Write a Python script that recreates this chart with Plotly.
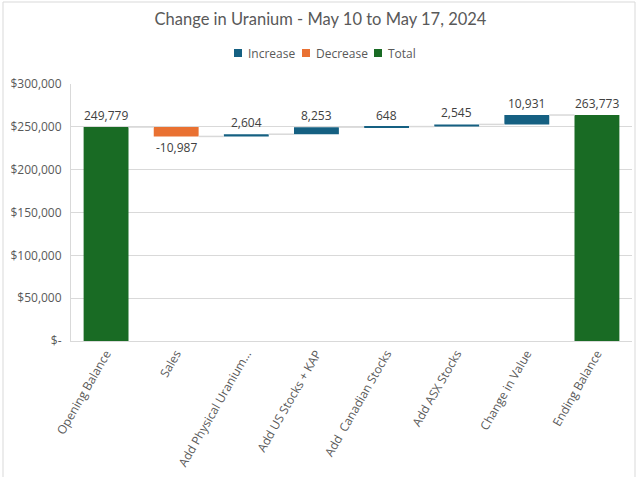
import plotly.graph_objects as go

categories = ["Opening Balance", "Sales", "Add Physical Uranium...", "Add US Stocks + KAP",
              "Add  Canadian Stocks", "Add ASX Stocks", "Change in Value", "Ending Balance"]
values = [249779, -10987, 2604, 8253, 648, 2545, 10931, 263773]
kinds = ["total", "dec", "inc", "inc", "inc", "inc", "inc", "total"]
series_names = ["Increase", "Decrease", "Total"]
y_tickvals = [0, 50000, 100000, 150000, 200000, 250000, 300000]
y_ticktext = ["$-", "$50,000", "$100,000", "$150,000", "$200,000", "$250,000", "$300,000"]

C_INC = "#156082"
C_DEC = "#E97132"
C_TOT = "#196B24"
TXT = "#595959"
GRID = "#d9d9d9"
BW = 0.64

# plot-area geometry (pixels)
L, R, T, B = 71, 632, 84, 341
PW, PH = R - L, B - T

def px_x(p):
    return (p - L) / PW

def px_y(p):
    return (B - p) / PH

bases, ends = [], []
running = 0
for v, k in zip(values, kinds):
    if k == "total":
        bases.append(0)
        running = v
        ends.append(v)
    else:
        bases.append(running)
        running = running + v
        ends.append(running)

fig = go.Figure()

kind_keys = ["inc", "dec", "total"]
colors = [C_INC, C_DEC, C_TOT]
for key, name, color in zip(kind_keys, series_names, colors):
    idx = [i for i, k in enumerate(kinds) if k == key]
    fig.add_trace(go.Bar(
        x=idx, y=[values[i] for i in idx], base=[bases[i] for i in idx],
        width=BW, name=name, showlegend=False,
        marker=dict(color=color, line=dict(width=0)), hoverinfo="skip"))

# connectors
cx, cy = [], []
for i in range(len(values) - 1):
    cx += [i + BW / 2, i + 1 - BW / 2, None]
    cy += [ends[i], ends[i], None]
fig.add_trace(go.Scatter(x=cx, y=cy, mode="lines", line=dict(color=GRID, width=1.5),
                         showlegend=False, hoverinfo="skip"))

annotations = []
for i, v in enumerate(values):
    if v >= 0:
        annotations.append(dict(x=i, y=max(bases[i], ends[i]), xref="x", yref="y",
                                text=f"{v:,}", showarrow=False, yanchor="bottom", yshift=1,
                                font=dict(family="Open Sans", size=12, color="#404040")))
    else:
        annotations.append(dict(x=i, y=min(bases[i], ends[i]), xref="x", yref="y",
                                text=f"{v:,}", showarrow=False, yanchor="top", yshift=-1,
                                font=dict(family="Open Sans", size=12, color="#404040")))

# manual legend
shapes = []
leg_sq = [234, 302, 374]
for name, color, sx in zip(series_names, colors, leg_sq):
    shapes.append(dict(type="rect", xref="paper", yref="paper",
                       x0=px_x(sx), x1=px_x(sx + 8), y0=px_y(57), y1=px_y(49),
                       fillcolor=color, line=dict(width=0)))
    annotations.append(dict(x=px_x(sx + 12), y=px_y(53.5), xref="paper", yref="paper",
                            text=name, showarrow=False, xanchor="left", yanchor="middle",
                            font=dict(family="Open Sans", size=12, color=TXT)))

shapes.append(dict(type="rect", xref="paper", yref="paper",
                   x0=px_x(3), x1=px_x(635), y0=px_y(487), y1=px_y(2),
                   line=dict(color=GRID, width=1), fillcolor="rgba(0,0,0,0)", layer="below"))

fig.update_layout(
    width=641, height=477,
    margin=dict(l=L, r=641 - R, t=T, b=477 - B, autoexpand=False),
    paper_bgcolor="white", plot_bgcolor="white",
    barmode="overlay", showlegend=False,
    title=dict(text="Change in Uranium - May 10 to May 17, 2024",
               font=dict(family="Lato", size=16.5, color=TXT),
               x=0.5, xanchor="center", xref="container", y=1 - 19 / 477, yanchor="middle"),
    xaxis=dict(range=[-0.5, len(categories) - 0.5], tickmode="array",
               tickvals=list(range(len(categories))), ticktext=categories,
               tickangle=-60, showgrid=False, zeroline=False, automargin=False,
               showline=True, linecolor=GRID, linewidth=1,
               tickfont=dict(family="Open Sans", size=12, color=TXT), ticks=""),
    yaxis=dict(range=[0, 300000], tickmode="array", tickvals=y_tickvals, ticktext=y_ticktext,
               showgrid=True, gridcolor=GRID, gridwidth=1, zeroline=False, automargin=False,
               showline=True, linecolor=GRID, linewidth=1,
               tickfont=dict(family="Open Sans", size=12, color=TXT), ticks="",
               ticklabelstandoff=6),
    shapes=shapes,
    annotations=annotations,
)

fig.write_html("out.html")
